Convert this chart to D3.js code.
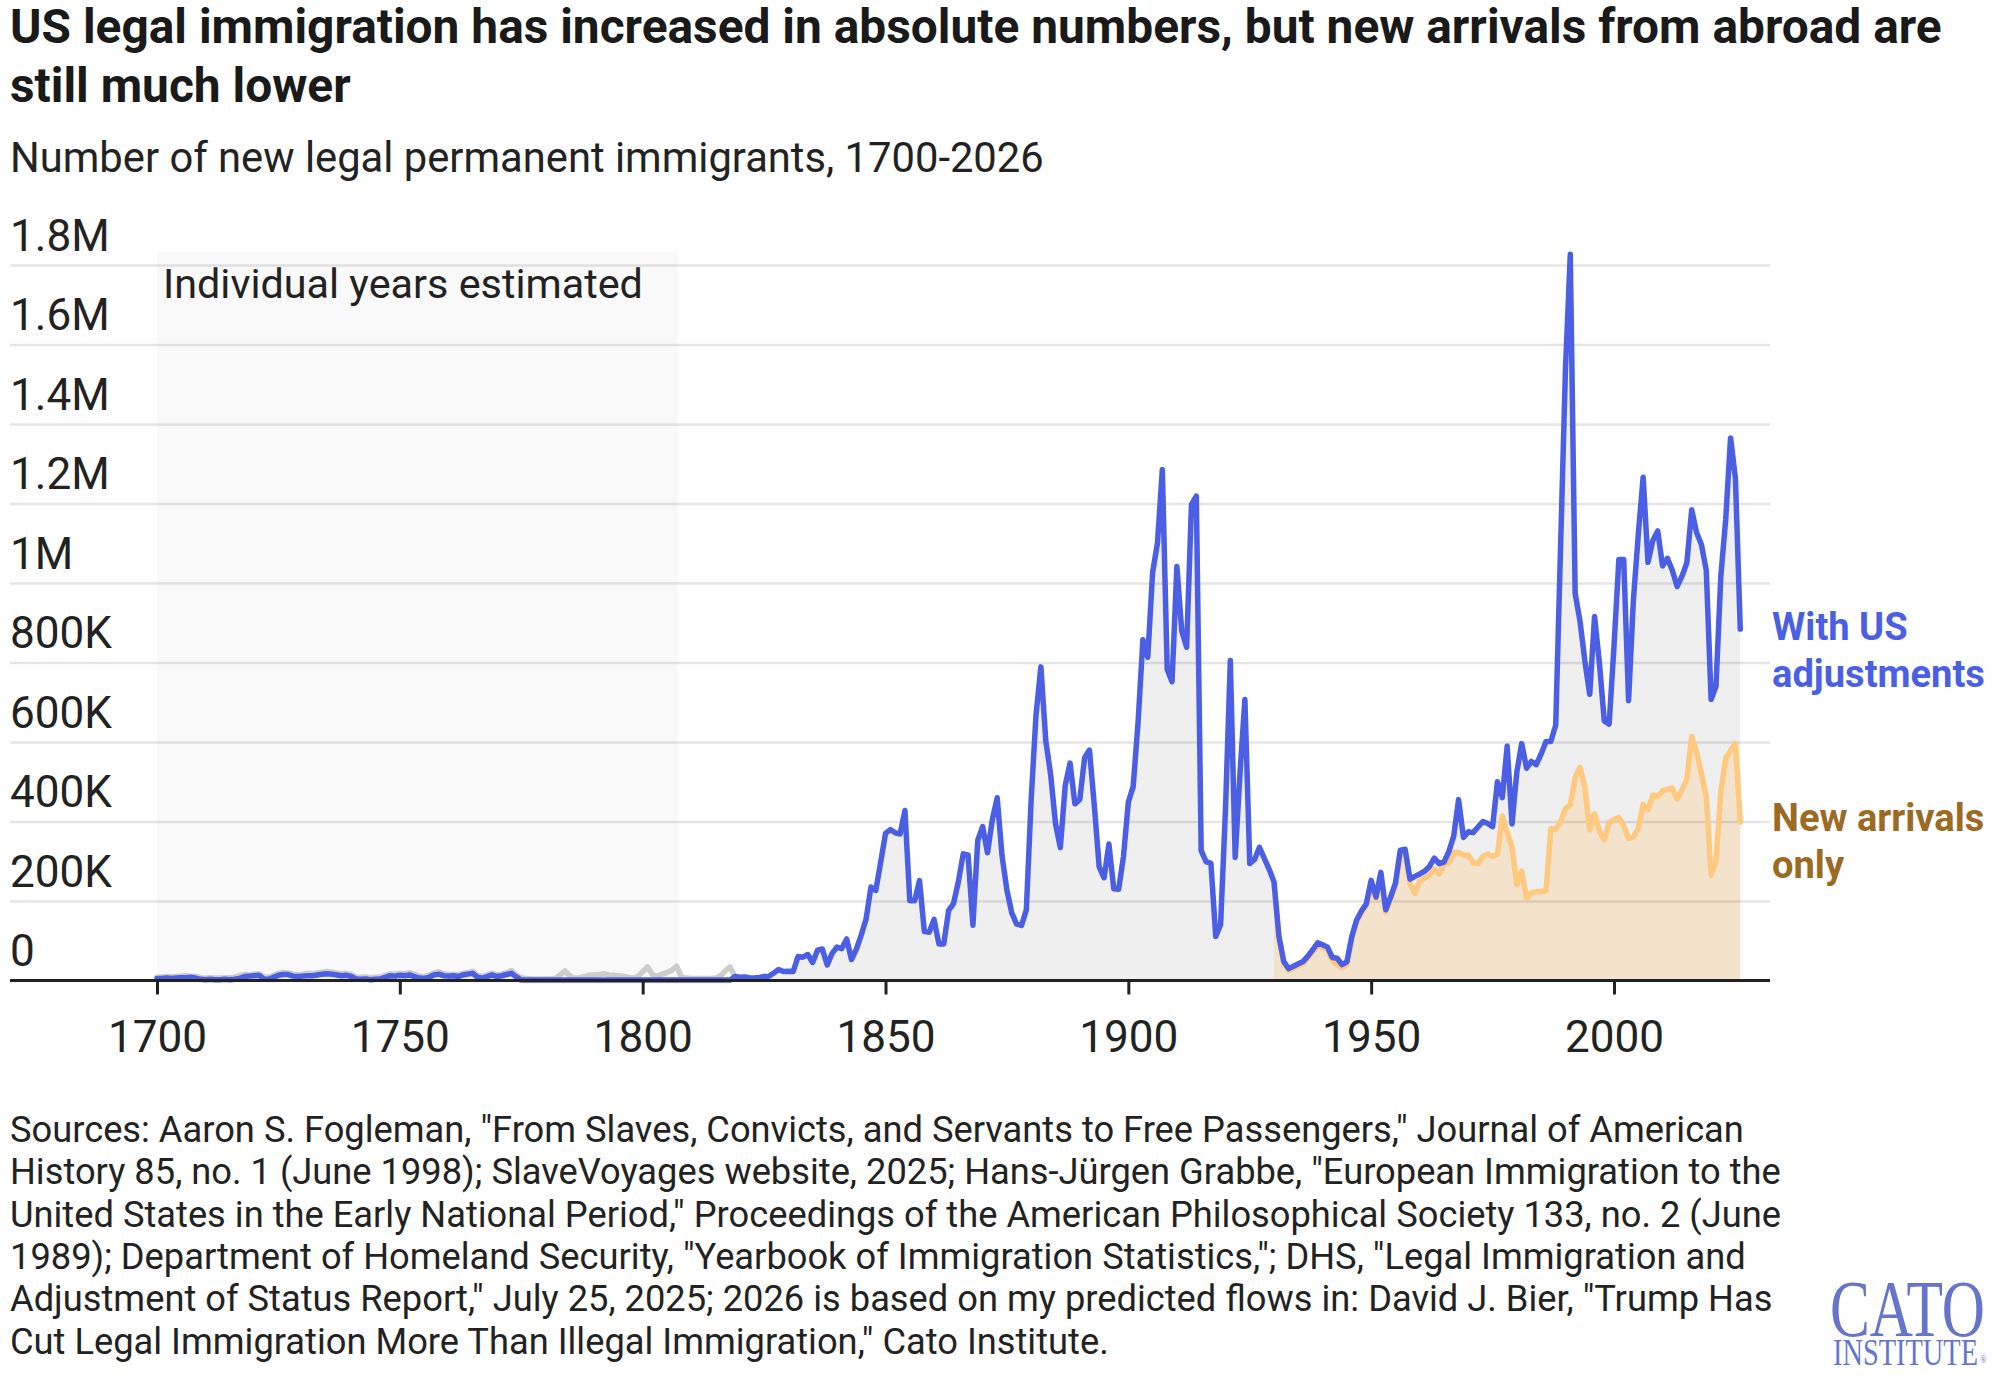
<!DOCTYPE html>
<html><head><meta charset="utf-8">
<script src="https://cdn.jsdelivr.net/npm/d3@7"></script>
<style>body{margin:0;background:#fff} svg{display:block}</style>
</head><body>
<svg id="c" width="1997" height="1379"></svg>
<script>
// ---------------- DATA (values in thousands) ----------------
const earlyStartYear = 1700;           // 1700-1819, individual years estimated
const adjustedEarly = [
 5,5,6,5,6,7,7,8,6,3,
 2,3,2,2,3,2,3,5,10,11,
 12,13,4,3,8,13,15,15,11,10,
 11,12,12,14,16,17,16,14,12,13,
 10,4,3,4,2,3,4,8,12,11,
 13,12,14,10,6,5,8,14,16,12,
 11,12,10,14,16,18,8,6,10,14,
 10,12,15,18,9,1,1,1,1,1,
 1,1,1,1,1,1,1,1,1,1,
 1,1,1,1,1,1,1,1,1,1,
 1,1,1,1,1,1,1,1,1,1,
 1,1,1,1,1,1,1,1,1,10];
const estimatedGray = [
 8,9,10,9,10,11,12,11,10,7,
 6,7,6,6,7,7,8,12,15,14,
 16,17,9,8,13,18,20,19,16,15,
 16,18,17,19,21,23,21,19,17,18,
 15,9,8,9,7,8,9,13,17,16,
 18,17,20,16,11,10,13,19,22,17,
 15,16,14,18,20,23,13,10,14,18,
 14,16,20,25,13,7,5,4,4,4,
 4,4,5,14,24,12,6,7,10,13,
 14,15,17,14,13,12,11,8,6,10,
 22,34,15,11,16,20,26,36,8,6,
 5,5,5,5,5,6,12,24,34,10];
const midStartYear = 1820;             // 1820-1929
const adjustedMid = [
 8.4,9.1,6.9,6.4,7.9,10.2,10.8,18.9,27.4,22.5,
 23.3,22.6,60.5,58.6,65.4,45.4,76.2,79.3,38.9,68.1,
 84.1,80.3,104.6,52.5,78.6,114.4,154.4,235.0,226.5,297.0,
 370.0,379.5,371.6,368.6,427.8,200.9,200.4,251.3,123.1,121.3,
 153.6,91.9,92.0,176.3,193.4,248.1,318.6,315.7,138.8,352.8,
 387.2,321.4,404.8,459.8,313.3,227.5,170.0,141.9,138.5,177.8,
 457.3,669.4,789.0,603.3,518.6,395.3,334.2,490.1,546.9,444.4,
 455.3,560.3,579.7,439.7,285.6,258.5,343.3,230.8,229.3,311.7,
 448.6,487.9,648.7,857.0,812.9,1026.5,1100.7,1285.3,782.9,751.8,
 1041.6,878.6,838.2,1197.9,1218.5,326.7,298.8,295.4,110.6,141.1,
 430.0,805.2,309.6,522.9,706.9,294.3,304.5,335.2,307.3,279.7];
const modernStartYear = 1930;          // 1930-2026
const adjustedModern = [
 248,112,48,30,36,42,48,62,78,95,
 90,84,58,56,40,47,110,152,175,193,
 252,210,272,178,210,245,328,330,255,262,
 268,275,287,308,294,298,325,363,455,360,
 374,372,386,400,395,387,500,460,590,394,
 525,596,534,551,543,570,601,601,643,1091,
 1536,1827,974,904,804,720,916,798,653,645,
 841,1059,1059,704,958,1122,1266,1052,1107,1131,
 1043,1062,1032,991,1017,1051,1184,1127,1097,1032,
 707,740,1018,1160,1365,1264,884];
const newArrivals = [
 240,108,44,25,31,37,43,57,72,88,
 83,78,50,40,32,40,105,147,170,188,
 247,205,266,172,205,240,322,322,245,219,
 250,258,265,281,268,292,296,322,322,315,
 315,296,294,312,318,312,318,414,373,336,
 241,275,207,221,223,224,225,382,380,400,
 432,442,510,536,487,379,419,376,354,398,
 405,410,390,357,361,383,443,429,466,463,
 477,481,484,456,480,506,614,575,520,462,
 265,300,475,559,578,596,398];
const estimatedRange = [1700, 1807.3];
const xTickValues = [1700, 1750, 1800, 1850, 1900, 1950, 2000];
const yTickValues = [0, 200000, 400000, 600000, 800000, 1000000, 1200000, 1400000, 1600000, 1800000];
const yTickLabels = ["0","200K","400K","600K","800K","1M","1.2M","1.4M","1.6M","1.8M"];
const titleLines = ["US legal immigration has increased in absolute numbers, but new arrivals from abroad are", "still much lower"];
const subtitle = "Number of new legal permanent immigrants, 1700-2026";
const sourceLines = [
 "Sources: Aaron S. Fogleman, \"From Slaves, Convicts, and Servants to Free Passengers,\" Journal of American",
 "History 85, no. 1 (June 1998); SlaveVoyages website, 2025; Hans-J\u00fcrgen Grabbe, \"European Immigration to the",
 "United States in the Early National Period,\" Proceedings of the American Philosophical Society 133, no. 2 (June",
 "1989); Department of Homeland Security, \"Yearbook of Immigration Statistics,\"; DHS, \"Legal Immigration and",
 "Adjustment of Status Report,\" July 25, 2025; 2026 is based on my predicted flows in: David J. Bier, \"Trump Has",
 "Cut Legal Immigration More Than Illegal Immigration,\" Cato Institute."];

// ---------------- BUILD SERIES ----------------
const toPts = (start, arr) => arr.map((v, i) => ({year: start + i, value: v * 1000}));
const adjusted = [].concat(toPts(earlyStartYear, adjustedEarly), toPts(midStartYear, adjustedMid), toPts(modernStartYear, adjustedModern));
const grayEarly = toPts(earlyStartYear, estimatedGray);
const arrivals = toPts(modernStartYear, newArrivals);

// ---------------- LAYOUT ----------------
const F = "Roboto, 'Liberation Sans', sans-serif";
const INK = "#222";
const BLUE = "#4a5fe4", ORANGE = "#ffc97f", ORANGE_FILL = "#f3e2cc", GRAY_FILL = "#efefef", BROWN = "#9b6a23";
const LEFT = 10, RIGHT = 1770;

const svg = d3.select("#c");
const x = d3.scaleLinear().domain([1700, 2000]).range([157, 1614]);
const y = d3.scaleLinear().domain([0, 1800000]).range([980.5, 265]);

function fitSize(text, weight, target, family) {
  const t = svg.append("text").attr("font-family", family || F).attr("font-weight", weight).attr("font-size", 100).text(text);
  const w = t.node().getComputedTextLength();
  t.remove();
  return 100 * target / w;
}

// shaded estimated region
svg.append("rect")
  .attr("x", x(estimatedRange[0])).attr("width", x(estimatedRange[1]) - x(estimatedRange[0]))
  .attr("y", 252).attr("height", y(0) - 252)
  .attr("fill", "#f9f9f9");

// areas
const area = d3.area().x(d => x(d.year)).y0(y(0)).y1(d => y(d.value));
svg.append("path").datum(adjusted).attr("d", area).attr("fill", GRAY_FILL);
svg.append("path").datum(arrivals).attr("d", area).attr("fill", ORANGE_FILL);

// y axis / gridlines
const tickFs = fitSize("800K", 400, 102);
const yAxis = d3.axisRight(y).tickValues(yTickValues).tickSize(RIGHT - LEFT).tickFormat((d, i) => yTickLabels[i]);
const gy = svg.append("g").attr("transform", `translate(${LEFT},0)`).call(yAxis);
gy.select(".domain").remove();
gy.selectAll(".tick line").attr("stroke", "rgba(0,0,0,0.1)").attr("stroke-width", 2.5);
gy.selectAll(".tick text").attr("x", 0).attr("dy", -15).attr("text-anchor", "start")
  .attr("font-family", F).attr("font-size", tickFs).attr("fill", INK);

// lines
const line = d3.line().x(d => x(d.year)).y(d => y(d.value));
const lineStyle = (p, c) => p.attr("fill", "none").attr("stroke", c).attr("stroke-width", 5.5)
  .attr("stroke-linejoin", "round").attr("stroke-linecap", "round");
svg.append("path").datum(grayEarly).attr("d", line).call(lineStyle, "#cdcdcd");
svg.append("path").datum(arrivals).attr("d", line).call(lineStyle, ORANGE);
svg.append("path").datum(adjusted).attr("d", line).call(lineStyle, BLUE);

// x axis
svg.append("line").attr("x1", LEFT).attr("x2", RIGHT).attr("y1", y(0)).attr("y2", y(0))
  .attr("stroke", INK).attr("stroke-width", 3);
const xAxis = d3.axisBottom(x).tickValues(xTickValues).tickSize(14).tickFormat(d3.format("d"));
const gx = svg.append("g").attr("transform", `translate(0,${y(0)})`).call(xAxis);
gx.select(".domain").remove();
gx.selectAll(".tick line").attr("stroke", INK).attr("stroke-width", 3);
gx.selectAll(".tick text").attr("y", 1052 - y(0)).attr("dy", 0)
  .attr("font-family", F).attr("font-size", tickFs).attr("fill", INK);

// annotation
const annFs = fitSize("Individual years estimated", 400, 480);
svg.append("text").attr("x", 163).attr("y", 298).attr("font-family", F).attr("font-size", annFs)
  .attr("fill", INK).text("Individual years estimated");

// legend labels
const legFs = fitSize("adjustments", 700, 213);
const leg = [
  {t: "With US", y: 640, c: BLUE}, {t: "adjustments", y: 687, c: BLUE},
  {t: "New arrivals", y: 831, c: BROWN}, {t: "only", y: 878, c: BROWN}];
svg.selectAll(".leg").data(leg).enter().append("text")
  .attr("x", 1772).attr("y", d => d.y).attr("font-family", F).attr("font-weight", 700)
  .attr("font-size", legFs).attr("fill", d => d.c).text(d => d.t);

// title + subtitle
const titleFs = fitSize(titleLines[0], 700, 1932);
svg.selectAll(".title").data(titleLines).enter().append("text")
  .attr("x", LEFT).attr("y", (d, i) => 43 + i * 59).attr("font-family", F).attr("font-weight", 700)
  .attr("font-size", titleFs).attr("fill", "#1a1a1a").text(d => d);
const subFs = fitSize(subtitle, 400, 1034);
svg.append("text").attr("x", LEFT).attr("y", 172).attr("font-family", F).attr("font-size", subFs)
  .attr("fill", INK).text(subtitle);

// sources
const srcFs = fitSize(sourceLines[4], 400, 1763);
svg.selectAll(".src").data(sourceLines).enter().append("text")
  .attr("x", LEFT).attr("y", (d, i) => 1142 + i * 42.3).attr("font-family", F)
  .attr("font-size", srcFs).attr("fill", INK).text(d => d);

// logo: one text element, horizontally condensed via transform
const LOGO = "#6674cc";
const SERIF = "'Liberation Serif', 'DejaVu Serif', serif";
const sx = 0.75;
const catoFs = fitSize("CATO", 400, 155 / sx, SERIF);
const instFs = fitSize("INSTITUTE", 400, 145 / sx, SERIF);
const logo = svg.append("g").attr("transform", `translate(1830,0) scale(${sx},1)`)
  .append("text").attr("font-family", SERIF).attr("fill", LOGO);
logo.append("tspan").attr("x", 0).attr("y", 1336).attr("font-size", catoFs).text("CATO");
logo.append("tspan").attr("x", 3 / sx).attr("y", 1365).attr("font-size", instFs).text("INSTITUTE");
logo.append("tspan").attr("dx", 3).attr("y", 1363).attr("font-size", 11).text("\u00ae");
</script></body></html>
